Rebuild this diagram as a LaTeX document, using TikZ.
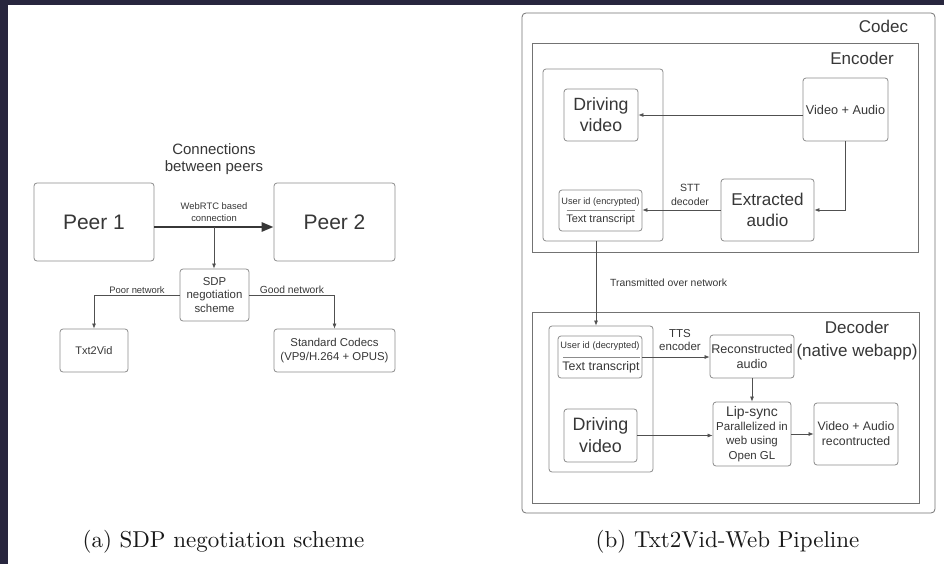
\documentclass[tikz,border=0pt]{standalone}
\usepackage{fontspec}
\usepackage{graphicx}
\usepackage{tikz}
\usetikzlibrary{arrows.meta, positioning, calc}
\newfontfamily\diafont{Liberation Sans}
\definecolor{navy}{RGB}{40,38,62}
\definecolor{boxgray}{RGB}{140,140,140}
\definecolor{panelgray}{RGB}{115,115,115}
\definecolor{txtgray}{RGB}{55,55,55}
\definecolor{linegray}{RGB}{80,80,80}
\newcommand{\dfs}[2]{\diafont\fontsize{#1}{#2}\selectfont}
\newcommand{\capt}[1]{\scalebox{2.3}{\fontsize{10}{12}\selectfont #1}}
\tikzset{
  box/.style={draw=boxgray, line width=0.8pt, rounded corners=3pt, inner sep=1pt, align=center, text=txtgray},
  panel/.style={draw=panelgray, line width=0.8pt},
  lbl/.style={text=txtgray, align=center, inner sep=0pt},
  conn/.style={draw=linegray, line width=0.7pt, -{Latex[length=5pt,width=4pt]}},
  bigarrow/.style={draw=txtgray, line width=2.6pt, -{Triangle[length=12pt,width=9pt]}},
}

\begin{document}
\begin{tikzpicture}[x=1pt, y=-1pt]
  \useasboundingbox (0,0) rectangle (944,564);
  \fill[white] (0,0) rectangle (944,564);
  \fill[navy] (0,0) rectangle (944,5);
  \fill[navy] (0,0) rectangle (8,564);

  % (a) SDP negotiation
  \node[lbl, font=\dfs{15}{17}] (title) at (214,159.5) {Connections\\between peers};
  \node[box, minimum width=120pt, minimum height=78pt, font=\dfs{21}{25}] (peerA) at (94,222) {Peer 1};
  \node[box, minimum width=121pt, minimum height=78pt, font=\dfs{21}{25}] (peerB) at (334.5,222) {Peer 2};
  \draw[bigarrow] ([yshift=-5pt]peerA.east) -- ([yshift=-5pt]peerB.west);
  \node[lbl, font=\dfs{9.4}{12}] (webrtc) at (214,212) {WebRTC based\\connection};
  \coordinate (split) at (214,227);
  \node[box, minimum width=69pt, minimum height=52pt, font=\dfs{11.4}{13.5}] (sdp) at (214.5,295) {SDP\\negotiation\\scheme};
  \draw[conn] (split) -- (split |- sdp.north);
  \node[box, minimum width=68pt, minimum height=43pt, font=\dfs{11}{13}] (txt) at (94,350.5) {Txt2Vid};
  \node[box, minimum width=121pt, minimum height=43pt, font=\dfs{11.4}{14}] (std) at (334.5,350.5) {Standard Codecs\\(VP9/H.264 + OPUS)};
  \draw[conn] (sdp.west) -| (txt.north);
  \draw[conn] (sdp.east) -| (std.north);
  \node[lbl, font=\dfs{9.4}{11}] (poor) at (137,290) {Poor network};
  \node[lbl, font=\dfs{10.3}{12}] (good) at (292,290) {Good network};

  % (b) pipeline: encoder
  \node[panel, rounded corners=4pt, minimum width=413pt, minimum height=500pt] (codec) at (728.5,263) {};
  \node[lbl, font=\dfs{17}{20}] (codecT) at (883.5,26) {Codec};
  \node[panel, minimum width=386pt, minimum height=209pt] (enc) at (725,147.5) {};
  \node[lbl, font=\dfs{17}{20}] (encT) at (862,58) {Encoder};
  \node[box, minimum width=120pt, minimum height=172pt] (encL) at (603,155) {};
  \node[box, minimum width=74pt, minimum height=52pt, font=\dfs{17.7}{21}] (drvA) at (601,115) {Driving\\video};
  \node[box, minimum width=85pt, minimum height=63pt, font=\dfs{12.7}{15}] (vaA) at (845.5,109.5) {Video + Audio};
  \node[box, minimum width=93pt, minimum height=62pt, font=\dfs{17.1}{21}] (exA) at (767.5,210) {Extracted\\audio};
  \node[box, minimum width=83pt, minimum height=41pt] (uidA) at (600.5,210.5) {};
  \node[lbl, font=\dfs{9.2}{11}] (uidAtop) at (600.5,202) {User id (encrypted)};
  \node[lbl, font=\dfs{11}{13}] (uidAbot) at (600.5,220) {Text transcript};
  \draw[boxgray, line width=0.6pt] ([xshift=-34pt]uidA.center) -- ([xshift=34pt]uidA.center);
  \draw[conn] (vaA.west |- drvA.east) -- (drvA.east);
  \draw[conn] (vaA.south) |- (exA.east);
  \draw[conn] (exA.west) -- (exA.west -| uidA.east);
  \node[lbl, font=\dfs{10.5}{14}] (stt) at (690,195) {STT\\decoder};

  % decoder
  \node[panel, minimum width=387pt, minimum height=191pt] (dec) at (725.5,407.5) {};
  \node[lbl, font=\dfs{17}{23}] (decT) at (857,340.5) {Decoder\\(native webapp)};
  \node[box, minimum width=104pt, minimum height=146pt] (decL) at (601,399) {};
  \draw[conn] ([xshift=-7pt]encL.south) -- ([xshift=-7pt]encL.south |- decL.north);
  \node[lbl, font=\dfs{10.4}{12}, anchor=west] (txnet) at (610,283) {Transmitted over network};
  \node[box, minimum width=84pt, minimum height=42pt] (uidB) at (600,357) {};
  \node[lbl, font=\dfs{9.3}{11}] (uidBtop) at (600,346) {User id (decrypted)};
  \node[lbl, font=\dfs{12.4}{14}] (uidBbot) at (601,367) {Text transcript};
  \draw[boxgray, line width=0.6pt] ([xshift=-37pt]uidB.center) -- ([xshift=40pt]uidB.center);
  \node[box, minimum width=73pt, minimum height=53pt, font=\dfs{17.9}{22}] (drvB) at (600.5,435.5) {Driving\\video};
  \node[box, minimum width=84pt, minimum height=43pt, font=\dfs{12.6}{15}] (recB) at (752,356.5) {Reconstructed\\audio};
  \node[lbl, font=\dfs{11.5}{13}] (tts) at (680,340.5) {TTS\\encoder};
  \node[box, minimum width=78pt, minimum height=64pt, font=\dfs{11.5}{14.3}] (lip) at (752,434) {{\fontsize{13.9}{15}\selectfont Lip-sync}\\Parallelized in\\web using\\Open GL};
  \node[box, minimum width=84pt, minimum height=62pt, font=\dfs{12.3}{15}] (vaB) at (856,434) {Video + Audio\\recontructed};
  \draw[conn] (uidB.east) -- (uidB.east -| recB.west);
  \draw[conn] (recB.south) -- (lip.north);
  \draw[conn] (drvB.east) -- (drvB.east -| lip.west);
  \draw[conn] (lip.east) -- (vaB.west);

  % captions
  \node[anchor=base, text=black!90, inner sep=0pt] (capA) at (223.5,547) {\capt{(a) SDP negotiation scheme}};
  \node[anchor=base, text=black!90, inner sep=0pt] (capB) at (727.5,547) {\capt{(b) Txt2Vid-Web Pipeline}};
\end{tikzpicture}
\end{document}
